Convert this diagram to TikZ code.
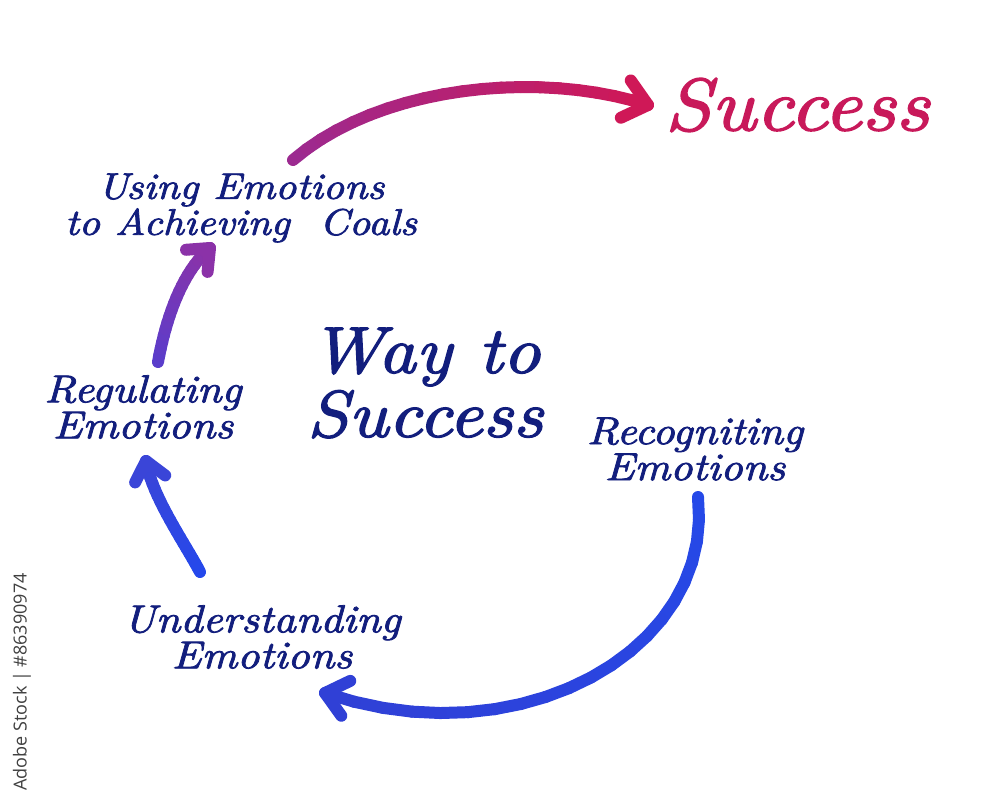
\documentclass[tikz,border=0pt]{standalone}
\usepackage{fontspec}
\newfontfamily\wmfont{Open Sans}
\newfontfamily\hand{lmroman10-italic}[Extension=.otf, FakeBold=2, FakeStretch=1.12]
\usetikzlibrary{calc}
\definecolor{navy}{RGB}{18,30,125}
\definecolor{pinkred}{RGB}{200,25,90}
\definecolor{tpA}{RGB}{156,42,144}
\definecolor{tpB}{RGB}{207,24,87}
\definecolor{pvA}{RGB}{90,61,203}
\definecolor{pvB}{RGB}{139,50,168}
\definecolor{bsA}{RGB}{36,72,236}
\definecolor{bsB}{RGB}{58,69,216}
\definecolor{bgA}{RGB}{37,73,232}
\definecolor{bgB}{RGB}{48,64,214}
% #1 prefix, #2 P0, #3 P1, #4 P2, #5 P3, #6 start colour, #7 end colour, #8 arm length
\newcommand{\gradcurve}[8]{%
  \foreach \gi in {0,...,20}{%
    \pgfmathsetmacro{\gtime}{\gi/20}%
    \path #2 .. controls #3 and #4 .. #5 coordinate[pos=\gtime] (#1\gi);}
  \foreach \gi in {0,...,19}{%
    \pgfmathtruncatemacro{\gj}{\gi+1}%
    \pgfmathtruncatemacro{\gp}{\gi*100/19}%
    \draw[seg, color=#7!\gp!#6] (#1\gi) -- (#1\gj);}
  \draw[seg, color=#7] ($(#120)!#8!40:(#118)$) -- (#120) -- ($(#120)!#8!-40:(#118)$);
}
\begin{document}
\begin{tikzpicture}[x=0.5pt,y=-0.5pt,
  lbl/.style={text=navy, font=\hand\fontsize{19.5}{18}\selectfont, align=center, inner sep=0pt},
  seg/.style={line width=6pt, line cap=round, line join=round}]
\useasboundingbox (0,0) rectangle (1000,801);
\fill[white] (0,0) rectangle (1000,801);

\node[lbl, font=\hand\fontsize{18.5}{18}\selectfont] (using) at (241,208) {Using Emotions\\to Achieving~ Coals};
\node[lbl] (reg) at (143,407) {Regulating\\Emotions};
\node[lbl] (rec) at (695,449) {Recogniting\\Emotions};
\node[lbl] (und) at (262,637) {Understanding\\Emotions};
\node[text=navy, font=\hand\fontsize{33}{32}\selectfont, align=center, inner sep=0pt] (way) at (425,383) {Way to\\Success};
\node[text=pinkred, font=\hand\fontsize{37}{38}\selectfont, inner sep=0pt] (succ) at (797,105) {Success};
\node[rotate=90, text=black!75, font=\wmfont\fontsize{9}{10}\selectfont, inner sep=0pt] (stock) at (22,682) {Adobe Stock | \#86390974};

\gradcurve{t}{(293,160)}{(380,85)}{(540,70)}{(648,105)}{tpA}{tpB}{15pt}
\gradcurve{p}{(158,362)}{(166,318)}{(182,272)}{(210,248)}{pvA}{pvB}{12pt}
\gradcurve{b}{(200,572)}{(186,545)}{(152,497)}{(146,461)}{bsA}{bsB}{12pt}
\gradcurve{g}{(698,497)}{(715,650)}{(520,760)}{(325,693)}{bgA}{bgB}{14pt}
\end{tikzpicture}
\end{document}
